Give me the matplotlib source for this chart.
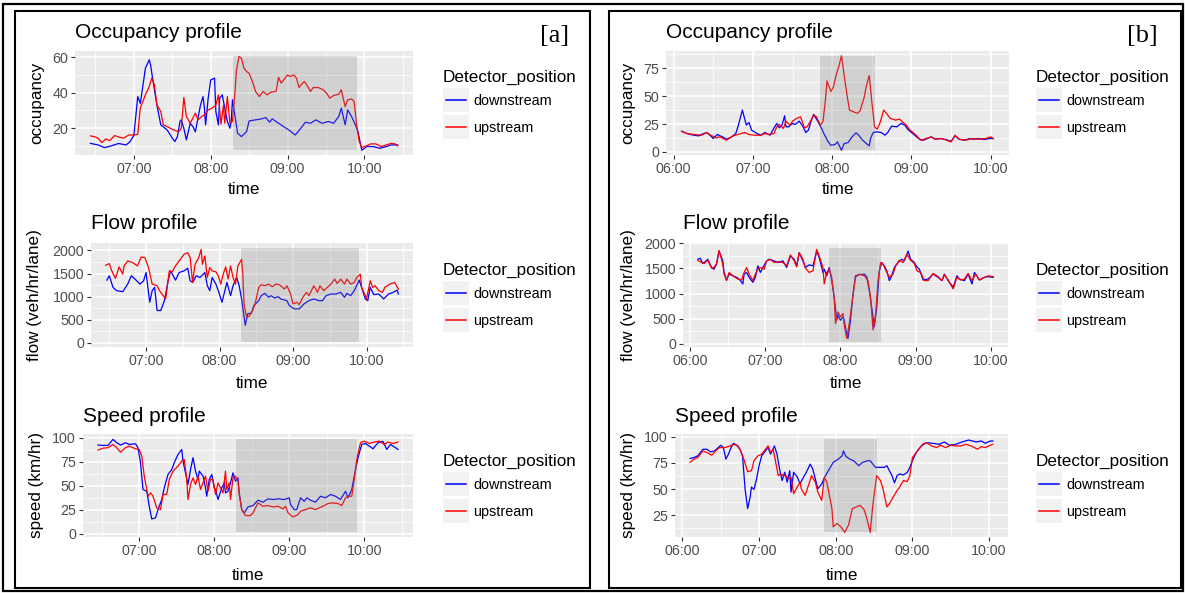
import numpy as np
import pandas as pd
import matplotlib
matplotlib.use('Agg')
import matplotlib.pyplot as plt
import matplotlib.dates as mdates
from matplotlib.ticker import MultipleLocator
from matplotlib.patches import Rectangle
from matplotlib.lines import Line2D
from matplotlib.legend_handler import HandlerBase

plt.rcParams['font.family'] = ['Liberation Sans', 'DejaVu Sans']

# ---- data: time in minutes after 06:00 ----
# [a] occupancy
a_occ_dn_t = [26,32,37,42,48,54,57,60,63,65,66,69,72,73,75,78,81,86,90,92,94,96,97,99,101,104,106,108,110,112,
              114,115,116,118,120,123,124,126,127,129,131,133,135,136,137,139,141,144,148,150,155,160,163,166,168,
              173,181,186,190,194,198,202,207,212,216,220,222,225,227,230,233,235,238,242,247,252,257,261,266]
a_occ_dn = [11.5,10.6,9.1,10,11.4,10.6,12.5,16,37.8,34,38.8,53.8,58.5,55.7,46.3,33,21.9,19,14.4,12.5,
            15.3,23.8,24.7,20,13.4,22.8,21,18,25.6,33,37.8,32,21.9,36.9,47.2,48.2,29.4,21.9,36.9,38.8,
            31.3,23.8,20,23.8,36,26.6,17.2,15.3,18.1,24.1,24.7,25.3,26,23.4,25.3,22.8,19,16.2,19.6,23.4,
            22.8,24.7,22.8,23.8,22.8,26.6,31.3,21.9,30.3,26.6,21.9,18.1,7.6,9.7,9.7,8.7,9.7,10.6,10.6]
a_occ_up_t = [26,29,32,35,38,41,45,48,52,56,60,63,65,69,72,74,76,78,81,83,86,91,95,97,99,101,104,106,108,110,
              113,115,118,121,124,126,128,130,131,133,135,137,139,140,142,144,146,148,150,153,155,158,161,164,167,
              171,173,175,177,180,182,185,187,189,191,193,195,198,200,204,208,211,213,216,220,222,225,227,230,232,
              234,236,238,242,245,249,253,257,261,264,266]
a_occ_up = [15.7,15.3,14.4,11.9,14,13,15.9,15.1,14.4,16.2,16.2,16.6,31.3,38.8,43.5,48.2,44.4,33,29.4,21.9,
            20.9,19,18.1,20,37.3,26.6,22.8,25.6,28.5,24.7,26.6,27.5,30.3,31.3,33,38.8,22.3,33,22.8,37.8,
            22.8,23.8,40.7,51.9,60.4,59.4,53.8,51.9,51,45.4,40.7,37.8,40.7,38.8,40.3,40.7,48.7,45.4,47.2,50,
            49.1,50,48.2,42.9,44.8,46.3,44.4,40.7,42.9,42.9,41.6,39.2,36.9,38.4,39.2,41.6,32.2,36,36.5,35,
            21.9,12.5,9.1,10.2,11.2,11.2,9.7,10.6,11.5,11.2,10]

# [a] flow
a_flow_dn_t = [28,30,33,36,41,45,48,51,55,58,60,63,65,67,69,72,75,78,80,84,87,91,94,96,98,101,104,108,110,112,
               114,117,119,122,124,126,129,131,134,136,138,141,143,146,148,152,154,157,160,162,165,168,170,175,177,
               181,185,189,193,197,201,204,207,211,215,219,222,224,227,230,234,236,239,241,243,246,250,254,258,262,
               265,266]
a_flow_dn = [1357,1450,1200,1129,1107,1271,1450,1379,1271,1343,1521,879,1129,1200,700,700,914,1343,1557,1357,
             1521,1557,1614,1343,1307,1450,1414,1521,1236,1129,1414,1271,1129,879,1093,1307,1021,1236,1414,1236,
             950,379,629,643,807,914,1021,1071,986,1021,971,1000,950,914,807,736,736,843,914,950,
             914,914,1021,1057,1057,1093,986,1071,1021,1129,1357,1200,950,914,1200,1043,1057,950,1057,1093,
             1143,1057]
a_flow_up_t = [27,30,32,35,38,41,42,45,49,53,56,59,62,65,69,71,74,76,79,81,84,87,91,94,96,98,100,103,105,106,
               108,110,112,114,117,119,121,123,125,127,129,131,133,135,138,139,140,142,144,147,149,152,154,157,160,
               163,166,169,173,175,178,180,183,185,188,191,193,195,197,200,202,205,208,211,214,216,219,222,224,227,
               230,232,235,236,239,240,243,245,247,250,253,255,259,263,266]
a_flow_up = [1679,1714,1557,1393,1643,1486,1664,1771,1736,1664,1857,1843,1629,1271,1236,1129,1021,950,1557,1521,
             1664,1771,1914,1950,1843,1307,1700,1843,2021,1700,1879,1414,1629,1557,1536,1450,1271,1486,1643,1379,
             1664,1414,1271,1664,1807,1486,843,557,571,700,843,1200,1257,1236,1271,1214,1271,1257,1164,1236,
             1057,843,879,829,986,1093,1021,1129,1236,1093,1236,1129,1200,1271,1379,1286,1379,1271,1379,1271,
             1307,1414,1486,1200,1021,950,1343,1200,1236,1129,1093,1200,1271,1307,1164]

# [a] speed
a_spd_dn_t = [27,31,35,39,42,45,49,52,57,59,61,63,66,68,70,73,75,78,80,83,86,88,91,94,95,97,99,101,103,105,
              107,108,111,113,114,116,118,120,121,123,126,128,129,131,133,135,137,139,140,142,144,147,151,155,159,
              163,167,171,176,180,181,184,186,189,192,194,197,201,205,209,213,217,221,225,227,230,232,235,238,241,
              244,247,251,255,258,261,265,267]
a_spd_dn = [92.4,92,92,98.3,94.8,92.4,94.8,93,93.7,89.6,74,46.2,44.4,28.8,15.6,16.7,25.3,35.8,47.9,61.8,
            67,74,82.6,87.8,75.7,63.5,51.4,67,79.2,65.3,56.6,65.3,60.1,47.9,39.2,56.6,61.8,47.9,46.2,35.8,
            47.9,53.1,42.7,44.4,53.1,63.5,54.9,58.3,42.7,25.3,21.9,28.1,29.5,35.1,33,36.5,35.8,36.5,35.8,37.5,
            30.6,25.3,25.3,37.5,34,37.5,35.1,33,39.2,37.5,41,39.2,35.8,44.4,37.5,46.2,60.1,79.2,93,94,
            91.3,88.5,94.8,96.2,87.8,93,89.6,87.8]
a_spd_up_t = [27,31,35,39,42,45,49,52,57,60,62,64,67,69,71,74,77,79,82,84,87,91,94,96,98,99,101,103,105,107,
              109,111,113,115,117,119,121,123,125,127,129,130,132,133,135,137,139,140,142,145,149,151,155,159,163,
              167,171,175,177,179,183,187,189,193,197,201,204,208,211,215,219,222,225,227,230,232,234,237,240,244,
              248,252,256,259,263,267]
a_spd_up = [87.1,89.2,89.6,93,89.6,85,89.6,91.3,88.5,87.8,80.9,60.1,39.2,42.7,39.2,27.1,25.3,41,41,56.6,
            65.3,70.5,75.7,77.4,56.6,35.8,51.4,58.3,51.4,60.1,46.2,53.1,60.1,44.4,56.6,56.6,41,53.1,47.9,42.7,
            65.3,46.2,53.1,35.8,58.3,60.1,54.9,41,25.3,19.1,19.1,21.9,32.3,28.8,29.5,28.1,28.8,26,28.8,21.9,
            17.7,20.1,23.6,25.3,27.1,25.3,27.1,29.5,31.6,32.3,31.6,29.5,37.5,39.2,39.2,56.6,77.4,94.8,96.5,94,
            95.5,96.5,93,95.5,94,95.5]

# [b] occupancy
b_occ_dn_t = [6,10,15,19,21,25,28,30,33,37,40,44,47,49,52,54,55,57,59,63,66,69,73,76,78,80,82,84,85,87,
              90,92,95,98,100,102,104,106,107,109,112,114,117,119,122,124,127,129,132,135,138,140,143,145,148,
              149,151,154,157,160,162,165,169,172,175,177,180,183,186,189,192,195,198,202,206,210,213,216,220,224,
              227,231,235,239,242]
b_occ_dn = [18.6,16.5,15,14.4,15.6,17.4,14.4,12,15.6,13.5,11.4,13.5,16.5,24,37.5,28.5,24,26.4,19.5,16.5,
            15,17.4,15,21.6,25.5,21.6,24,32.4,22.5,22.5,25.5,24.6,27.6,22.5,17.4,19.5,27.6,33.6,31.5,27.6,
            21,15.6,9,6,6.6,9,1.5,7.5,8.4,13.5,17.1,15,10.5,8.4,5.4,12,17.4,18,17.4,15,
            17.4,23.1,22.5,25.5,24,20.4,17.4,14.4,11.4,10.5,12,13.5,11.4,12,11.1,9.6,14.4,11.4,10.5,12,
            11.4,12,11.1,12,12]
b_occ_up_t = [6,10,15,21,25,28,32,35,40,45,51,54,57,61,66,69,72,76,78,80,83,85,88,90,93,96,99,101,104,106,
              108,111,113,115,116,119,121,123,125,127,129,131,133,136,139,141,144,146,148,150,152,154,156,159,162,
              164,168,171,173,176,179,183,187,191,195,198,203,210,213,216,221,226,231,236,240,242]
b_occ_up = [18.6,16.5,15.6,15,17.4,15,12.6,13.5,10.5,14.4,16.5,17.4,15.6,15,15,16.5,15.6,16.5,22.5,24.6,
            21,27.6,24,27.6,30,31.5,21.6,22.5,28.5,33,31.5,24,27,48,63.6,54,58.5,69,76.5,86.1,
            69,52.5,37.5,36,34.5,36.6,48,60,68.4,45,22.5,20.4,25.5,37.5,33,30,28.5,29.4,27,24,
            19.5,15.6,10.5,12,13.5,11.4,12,9,15,11.4,10.5,12,11.4,12,13.5,12]

# [b] flow
b_flow_dn_t = [6,8,10,12,14,17,19,21,23,26,27,29,31,34,37,39,42,43,45,47,50,52,54,56,58,61,63,67,70,74,
               77,80,83,85,87,90,92,95,98,101,103,106,107,109,111,113,115,117,118,120,122,123,125,126,128,130,
               132,135,139,141,143,146,147,149,151,153,155,157,159,161,163,166,169,171,174,176,179,181,183,186,
               190,194,198,201,203,206,210,213,215,219,222,225,227,231,235,238,242]
b_flow_dn = [1684,1704,1599,1638,1684,1520,1487,1586,1849,1652,1421,1270,1388,1355,1323,1290,1191,1388,1421,1323,
             1224,1323,1553,1421,1520,1652,1684,1652,1619,1652,1520,1750,1684,1553,1816,1652,1520,1573,1553,1849,
             1717,1421,1487,1355,1520,1257,928,467,566,467,533,467,171,105,467,994,1355,1375,1388,1336,
             1059,533,336,730,1454,1619,1553,1454,1257,1355,1520,1619,1684,1652,1849,1684,1619,1533,1487,1270,
             1290,1388,1323,1257,1388,1257,1125,1355,1290,1257,1388,1191,1421,1270,1323,1336,1323]
b_flow_up_t = [6,9,11,14,17,19,21,23,26,27,29,31,35,38,41,43,45,47,50,52,54,56,59,61,64,67,70,74,77,80,
               83,85,87,90,92,95,98,101,103,106,107,109,111,113,115,116,118,120,122,123,125,127,130,132,135,139,
               142,144,146,148,150,152,154,157,159,162,164,167,170,173,176,179,181,184,187,190,194,198,201,203,
               206,210,213,216,219,222,225,228,231,235,238,242]
b_flow_up = [1665,1619,1599,1665,1507,1520,1599,1862,1586,1388,1257,1421,1336,1290,1270,1421,1520,1388,1257,1388,
             1487,1520,1487,1652,1684,1619,1638,1619,1553,1770,1652,1533,1816,1684,1507,1421,1454,1882,1750,1520,
             1191,1421,1487,1323,895,401,632,533,599,368,105,401,961,1323,1388,1355,1257,928,270,566,
             1257,1619,1586,1421,1323,1388,1553,1665,1619,1783,1665,1599,1454,1421,1257,1257,1401,1336,1257,1375,
             1270,1092,1323,1270,1290,1401,1257,1388,1270,1323,1355,1336]

# [b] speed
b_spd_dn_t = [6,9,12,16,19,22,25,28,30,32,34,36,38,40,43,45,47,48,49,51,53,54,56,58,60,62,65,67,69,72,
              74,76,78,80,82,84,85,87,90,92,94,97,100,102,104,106,109,112,115,118,122,125,126,128,131,134,
              138,141,145,147,151,154,158,160,162,164,166,168,170,173,176,178,180,183,187,191,196,201,205,209,
              214,219,224,230,234,237,241,243]
b_spd_dn = [79.2,80.1,81.7,88,88,85.5,86.4,89.6,91.8,89.6,78.6,83.3,89.6,93.7,91.2,88,81.7,66,50.2,31.3,
            42.3,51.8,49.6,59.6,72.3,81.7,86.4,89.6,83.3,91.2,83.3,69.1,58.1,66,56.5,67.5,47,66,61.2,54.9,
            59.6,66,73.8,69.1,59.6,50.2,54.9,62.8,69.1,75.4,78.6,81.7,86.4,81.1,78.6,77,72.3,75.4,77,77,
            70.7,70.7,70.7,72.3,67.5,62.8,55.9,62.8,64.4,63.4,66,70.7,77,84.9,91.2,94.3,93.7,92.7,95,91.8,
            92.7,95,96.8,95,95.9,93.7,95.9,95.9]
b_spd_up_t = [6,9,12,16,19,23,26,29,33,36,40,43,45,48,51,54,56,59,62,64,67,69,71,73,75,77,79,81,83,85,
              87,89,92,93,96,99,101,104,106,109,111,113,115,117,118,121,124,127,130,133,136,139,142,144,147,149,
              152,155,157,160,162,165,168,170,173,176,178,180,184,188,191,195,199,202,206,210,214,218,222,226,
              231,234,237,241,243]
b_spd_up = [75.4,78.6,80.1,86.4,84.9,82.3,86.4,89.6,89.6,90.5,92.7,91.8,88,78.6,66.6,67.5,77,81.7,83.3,86.4,
            91.2,84.9,88,75.4,62.8,64.4,62.8,62.8,59.6,61.2,45.5,50.2,56.5,50.2,43.9,54.9,62.8,56.5,47,39.1,
            61.2,56.5,43.9,31.3,13.9,17.1,13.9,8.6,15.5,31.3,32.8,34.4,30.6,23.4,8.6,34.4,62.8,58.1,50.2,32.8,
            36,42.3,48.6,51.8,58.1,57.1,62.8,80.1,86.4,92.7,94.3,91.2,89.6,91.8,89.6,91.8,91.2,91.2,92.7,91.2,
            88,90.5,89.6,91.8,92.7]

# congestion windows (minutes after 06:00) and their value ranges
shade_a_t = [137.5, 234]
shade_b_t = [110.6, 152.6]
shade_a_occ = [7.8, 60.8]
shade_a_flow = [14, 2057]
shade_a_spd = [1.7, 99]
shade_b_occ = [1.5, 86.1]
shade_b_flow = [26, 1915]
shade_b_spd = [8.6, 98.1]

W, H = 1185, 593
fig = plt.figure(figsize=(W / 100, H / 100), dpi=100)
fig.patch.set_facecolor('white')

base = pd.Timestamp('2017-01-01 06:00')


def to_time(mins):
    return (base + pd.to_timedelta(np.asarray(mins, dtype=float), unit='min')).to_pydatetime()


def fx(x):
    return x / W


def fy(y):
    return 1 - y / H


class KeyHandler(HandlerBase):
    # ggplot style legend key: light grey square with a short line
    def create_artists(self, legend, orig_handle, xdescent, ydescent, width, height, fontsize, trans):
        x0, y0 = -xdescent, -ydescent
        bg = Rectangle((x0, y0), width, height, facecolor='#F2F2F2', edgecolor='none', transform=trans)
        m = 0.13 * width
        ln = Line2D([x0 + m, x0 + width - m], [y0 + height / 2] * 2, color=orig_handle.get_color(),
                    lw=1.1, transform=trans)
        return [bg, ln]


panels = [
    dict(box=(75, 413, 51, 155), title='Occupancy profile', ylab='occupancy', step=20,
         dn=(a_occ_dn_t, a_occ_dn), up=(a_occ_up_t, a_occ_up), st=shade_a_t, sy=shade_a_occ,
         ty=33, xy=190, yx=37, lx=443, ly=75),
    dict(box=(91, 413, 243, 347), title='Flow profile', ylab='flow (veh/hr/lane)', step=500,
         dn=(a_flow_dn_t, a_flow_dn), up=(a_flow_up_t, a_flow_up), st=shade_a_t, sy=shade_a_flow,
         ty=223, xy=383, yx=35, lx=443, ly=268),
    dict(box=(83, 413, 434, 537), title='Speed profile', ylab='speed (km/hr)', step=25,
         dn=(a_spd_dn_t, a_spd_dn), up=(a_spd_up_t, a_spd_up), st=shade_a_t, sy=shade_a_spd,
         ty=416, xy=575, yx=37, lx=443, ly=459),
    dict(box=(666, 1009, 51, 155), title='Occupancy profile', ylab='occupancy', step=25,
         dn=(b_occ_dn_t, b_occ_dn), up=(b_occ_up_t, b_occ_up), st=shade_b_t, sy=shade_b_occ,
         ty=33, xy=190, yx=628, lx=1036, ly=75),
    dict(box=(683, 1008, 243, 347), title='Flow profile', ylab='flow (veh/hr/lane)', step=500,
         dn=(b_flow_dn_t, b_flow_dn), up=(b_flow_up_t, b_flow_up), st=shade_b_t, sy=shade_b_flow,
         ty=223, xy=383, yx=628, lx=1036, ly=268),
    dict(box=(675, 1008, 434, 537), title='Speed profile', ylab='speed (km/hr)', step=25,
         dn=(b_spd_dn_t, b_spd_dn), up=(b_spd_up_t, b_spd_up), st=shade_b_t, sy=shade_b_spd,
         ty=416, xy=575, yx=628, lx=1036, ly=459),
]

for p in panels:
    l, r, t, b = p['box']
    ax = fig.add_axes([fx(l), fy(b), (r - l) / W, (b - t) / H])
    ax.set_facecolor('#EBEBEB')
    for s in ax.spines.values():
        s.set_visible(False)

    dn_t, dn_v = p['dn']
    up_t, up_v = p['up']
    h1, = ax.plot(to_time(dn_t), dn_v, color='#0000FF', lw=0.9, zorder=2)
    h2, = ax.plot(to_time(up_t), up_v, color='#FF0000', lw=0.9, zorder=2)
    ax.fill_between(to_time(p['st']), p['sy'][0], p['sy'][1], color='grey', alpha=0.25, lw=0, zorder=3)

    # 5% expansion like ggplot
    all_t = np.concatenate([dn_t, up_t, p['st']])
    t0, t1 = all_t.min(), all_t.max()
    pad = 0.05 * (t1 - t0)
    xl = to_time([t0 - pad, t1 + pad])
    ax.set_xlim(xl[0], xl[1])
    all_v = np.concatenate([dn_v, up_v, p['sy']])
    v0, v1 = all_v.min(), all_v.max()
    pad = 0.05 * (v1 - v0)
    ax.set_ylim(v0 - pad, v1 + pad)

    ax.xaxis.set_major_locator(mdates.HourLocator())
    ax.xaxis.set_minor_locator(mdates.MinuteLocator(byminute=[30]))
    ax.xaxis.set_major_formatter(mdates.DateFormatter('%H:%M'))
    ax.yaxis.set_major_locator(MultipleLocator(p['step']))
    ax.yaxis.set_minor_locator(MultipleLocator(p['step'] / 2))

    ax.set_axisbelow(True)
    ax.grid(True, which='major', color='white', lw=1.1)
    ax.grid(True, which='minor', color='white', lw=0.55)
    ax.tick_params(which='major', direction='out', length=3, width=0.8, color='#333333',
                   labelcolor='#4D4D4D', labelsize=10.3, pad=2)
    ax.tick_params(which='minor', length=0)

    fig.text(fx(l), fy(p['ty']), p['title'], fontsize=15, ha='left', va='center')
    fig.text(fx((l + r) / 2), fy(p['xy']), 'time', fontsize=12.3, ha='center', va='center')
    fig.text(fx(p['yx']), fy((t + b) / 2), p['ylab'], fontsize=12.3, rotation=90, ha='center', va='center')

    ax.legend([h1, h2], ['downstream', 'upstream'], title='Detector_position',
              handler_map={Line2D: KeyHandler()}, loc='upper left',
              bbox_to_anchor=(fx(p['lx']), fy(p['ly'] - 5)), bbox_transform=fig.transFigure,
              frameon=False, borderpad=0, borderaxespad=0, fontsize=10.4, title_fontsize=12.3,
              handlelength=1.8, handleheight=2.2, handletextpad=0.32, labelspacing=0.2,
              alignment='left')

# panel labels and frames
fig.text(fx(555), fy(36), '[a]', family='Liberation Serif', fontsize=19, ha='center', va='center')
fig.text(fx(1142), fy(36), '[b]', family='Liberation Serif', fontsize=19, ha='center', va='center')

frames = [(3, 4, 1183, 591, 1.6), (15, 11, 590, 588, 1.5), (609, 11, 1181, 588, 1.5)]
for x0, y0, x1, y1, lw in frames:
    fig.add_artist(Rectangle((fx(x0), fy(y1)), (x1 - x0) / W, (y1 - y0) / H, transform=fig.transFigure,
                             fill=False, edgecolor='black', lw=lw))

fig.savefig('out.png', dpi=100)
